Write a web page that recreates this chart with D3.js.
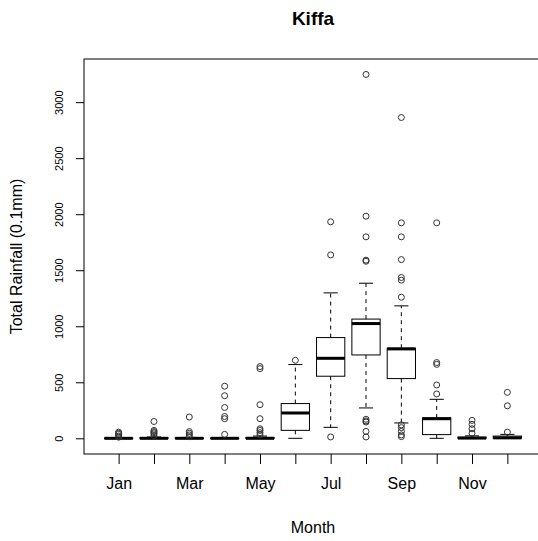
<!DOCTYPE html>
<html>
<head>
<meta charset="utf-8">
<script src="https://d3js.org/d3.v7.min.js"></script>
<style>
  body { margin: 0; background: #fff; }
  svg { display: block; font-family: "Liberation Sans", Arial, sans-serif; }
</style>
</head>
<body>
<svg id="chart" width="538" height="541"></svg>
<script>
const months = ['Jan','Feb','Mar','Apr','May','Jun','Jul','Aug','Sep','Oct','Nov','Dec']

// five-number summaries (0.1mm)
const whiskerLow = [0, 0, 0, 0, 0, 0, 98, 271, 137, 0, 0, 0]
const q1 = [0, 0, 0, 0, 0, 71, 554, 744, 533, 33, 0, 0]
const medians = [0, 0, 0, 0, 0, 226, 714, 1024, 798, 175, 2, 4]
const q3 = [2, 5, 3, 2, 8, 310, 899, 1064, 804, 182, 10, 20]
const whiskerHigh = [5, 12, 8, 5, 20, 658, 1298, 1384, 1182, 348, 22, 35]

const outliers = [
  [55, 45, 35, 20, 10],
  [150, 70, 60, 50, 40, 25],
  [190, 60, 45, 30, 15],
  [465, 380, 275, 195, 175, 35],
  [640, 622, 300, 175, 85, 70, 50, 30],
  [696],
  [1932, 1637, 12],
  [3247, 1982, 1798, 1590, 1580, 170, 155, 145, 62, 12],
  [2863, 1923, 1798, 1595, 1435, 1411, 1259, 120, 95, 62, 30, 15],
  [1923, 676, 660, 476, 396],
  [160, 125, 85, 45],
  [410, 290, 55]
]

const yTicks = [0, 500, 1000, 1500, 2000, 2500, 3000]

const boxes = months.map((m, i) => ({
  month: m,
  i: i + 1,
  lo: whiskerLow[i],
  q1: q1[i],
  med: medians[i],
  q3: q3[i],
  hi: whiskerHigh[i],
  out: outliers[i]
}))

const svg = d3.select('#chart')
const plot = {left: 84, right: 542, top: 59, bottom: 454}

const x = d3.scaleLinear().domain([0.02, 12.98]).range([plot.left, plot.right])
const y = d3.scaleLinear().domain([-140, 3385]).range([plot.bottom, plot.top])

const boxW = x(0.8) - x(0)
const capW = x(0.4) - x(0)

// frame
svg.append('rect')
  .attr('x', plot.left).attr('y', plot.top)
  .attr('width', plot.right - plot.left).attr('height', plot.bottom - plot.top)
  .attr('fill', 'none').attr('stroke', '#000').attr('stroke-width', 1)

// x axis
const xAxis = svg.append('g')
  .attr('transform', `translate(0,${plot.bottom})`)
  .call(d3.axisBottom(x)
    .tickValues(d3.range(1, 13))
    .tickSize(10)
    .tickPadding(14)
    .tickFormat(d => d % 2 === 1 ? months[d - 1] : ''))
xAxis.select('.domain').remove()
xAxis.selectAll('text').attr('font-size', 16).attr('fill', '#000').attr('font-family', null)

// y axis
const yAxis = svg.append('g')
  .attr('transform', `translate(${plot.left},0)`)
  .call(d3.axisLeft(y).tickValues(yTicks).tickSize(8).tickFormat(d3.format('d')))
yAxis.select('.domain').remove()
yAxis.selectAll('text')
  .attr('font-size', 11).attr('fill', '#000').attr('font-family', null)
  .attr('x', null).attr('dy', null)
  .attr('text-anchor', 'middle')
  .attr('transform', 'translate(-21,0) rotate(-90)')

// boxes
const g = svg.append('g').selectAll('g.box')
  .data(boxes)
  .join('g')
  .attr('class', 'box')

g.append('line')
  .attr('x1', d => x(d.i)).attr('x2', d => x(d.i))
  .attr('y1', d => y(d.q3)).attr('y2', d => y(d.hi))
  .attr('stroke', '#000').attr('stroke-dasharray', '4,4')
g.append('line')
  .attr('x1', d => x(d.i)).attr('x2', d => x(d.i))
  .attr('y1', d => y(d.q1)).attr('y2', d => y(d.lo))
  .attr('stroke', '#000').attr('stroke-dasharray', '4,4')

g.append('line')
  .attr('x1', d => x(d.i) - capW / 2).attr('x2', d => x(d.i) + capW / 2)
  .attr('y1', d => y(d.hi)).attr('y2', d => y(d.hi))
  .attr('stroke', '#000')
g.append('line')
  .attr('x1', d => x(d.i) - capW / 2).attr('x2', d => x(d.i) + capW / 2)
  .attr('y1', d => y(d.lo)).attr('y2', d => y(d.lo))
  .attr('stroke', '#000')

g.append('rect')
  .attr('x', d => x(d.i) - boxW / 2)
  .attr('width', boxW)
  .attr('y', d => y(d.q3))
  .attr('height', d => Math.max(y(d.q1) - y(d.q3), 0.5))
  .attr('fill', 'none').attr('stroke', '#000').attr('stroke-width', 1)

g.append('line')
  .attr('x1', d => x(d.i) - boxW / 2).attr('x2', d => x(d.i) + boxW / 2)
  .attr('y1', d => y(d.med)).attr('y2', d => y(d.med))
  .attr('stroke', '#000').attr('stroke-width', 3)

g.selectAll('circle')
  .data(d => d.out.map(v => ({i: d.i, v})))
  .join('circle')
  .attr('cx', d => x(d.i))
  .attr('cy', d => y(d.v))
  .attr('r', 3)
  .attr('fill', 'none').attr('stroke', '#333').attr('stroke-width', 1)

// titles
svg.append('text')
  .attr('x', (plot.left + plot.right) / 2).attr('y', 25)
  .attr('text-anchor', 'middle').attr('font-size', 19).attr('font-weight', 'bold')
  .text('Kiffa')

svg.append('text')
  .attr('x', (plot.left + plot.right) / 2).attr('y', 533)
  .attr('text-anchor', 'middle').attr('font-size', 16)
  .text('Month')

svg.append('text')
  .attr('transform', `translate(22,${(plot.top + plot.bottom) / 2}) rotate(-90)`)
  .attr('text-anchor', 'middle').attr('font-size', 16)
  .text('Total Rainfall (0.1mm)')
</script>
</body>
</html>
